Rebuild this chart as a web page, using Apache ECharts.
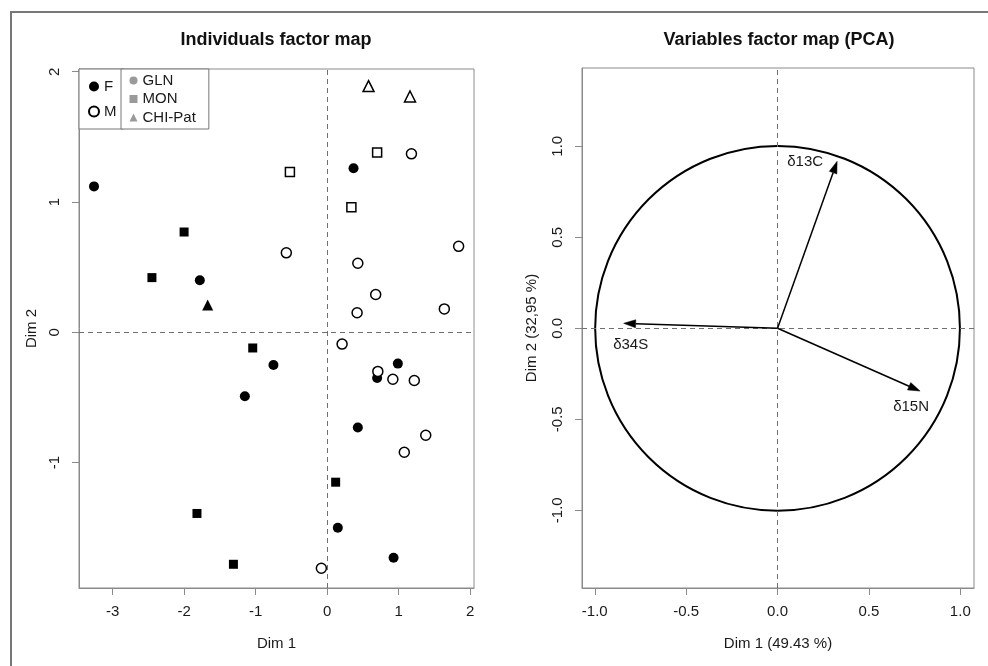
<!DOCTYPE html>
<html><head><meta charset="utf-8">
<script src="https://cdn.jsdelivr.net/npm/echarts@6/dist/echarts.min.js"></script>
<style>html,body{margin:0;padding:0;background:#fff}#c{width:988px;height:666px}</style>
</head><body><div id="c"></div><script>
// ---- Individuals factor map (Dim 1, Dim 2) by sex and site ----
const fGlnDim1 = [0.37, -3.26, -1.78, -0.75, 0.99, 0.70, -1.15, 0.43, 0.15, 0.93];
const fGlnDim2 = [1.26, 1.12, 0.40, -0.25, -0.24, -0.35, -0.49, -0.73, -1.50, -1.73];
const mGlnDim1 = [1.18, 1.84, -0.57, 0.43, 0.68, 1.64, 0.42, 0.21, 0.71, 0.92, 1.22, 1.38, 1.08, -0.08];
const mGlnDim2 = [1.37, 0.66, 0.61, 0.53, 0.29, 0.18, 0.15, -0.09, -0.30, -0.36, -0.37, -0.79, -0.92, -1.81];
const fMonDim1 = [-2.00, -2.45, -1.04, 0.12, -1.82, -1.31];
const fMonDim2 = [0.77, 0.42, -0.12, -1.15, -1.39, -1.78];
const mMonDim1 = [0.70, -0.52, 0.34];
const mMonDim2 = [1.38, 1.23, 0.96];
const fChiDim1 = [-1.67];
const fChiDim2 = [0.21];
const mChiDim1 = [0.58, 1.16];
const mChiDim2 = [1.89, 1.81];
const indTicksX = [-3, -2, -1, 0, 1, 2];
const indTicksY = [-1, 0, 1, 2];

// ---- Variables factor map (correlation circle) ----
const varNames = ['δ13C', 'δ15N', 'δ34S'];
const varDim1 = [0.326, 0.780, -0.842];
const varDim2 = [0.917, -0.345, 0.027];
const varTicks = [-1, -0.5, 0, 0.5, 1];
const circleRadius = 1;

const FONT = '"Liberation Sans", Arial, Helvetica, sans-serif';
const TXT = '#1a1a1a';
const AX = '#8a8a8a';
const GRAY = '#9a9a9a';

function zip(a, b) { return a.map((v, i) => [v, b[i]]); }

const labelOffsets = { 'δ13C': [-32, 0], 'δ15N': [-9, 16], 'δ34S': [7, 22] };

function axisCommon(ticks, fmt, isY, nameGap, name) {
  return {
    type: 'value',
    name: name,
    nameLocation: 'middle',
    nameGap: nameGap,
    nameTextStyle: { fontSize: 15, color: TXT, fontFamily: FONT },
    axisLine: { show: true, onZero: false, lineStyle: { color: AX, width: 1 } },
    axisTick: { show: true, inside: false, length: 7, lineStyle: { color: AX }, customValues: ticks },
    axisLabel: { show: true, fontSize: 15, color: TXT, fontFamily: FONT, margin: isY ? 17 : 16,
      rotate: isY ? 90 : 0, customValues: ticks, formatter: fmt, showMinLabel: true, showMaxLabel: true },
    splitLine: { show: false }
  };
}
const fmtInt = v => String(Math.round(v));
const fmt1 = v => (Math.round(v * 10) / 10).toFixed(1);

const dashed = {
  silent: true, symbol: 'none', label: { show: false },
  lineStyle: { color: '#6f6f6f', type: [5, 4], width: 1 },
  emphasis: { disabled: true },
  data: [{ xAxis: 0 }, { yAxis: 0 }]
};

const filled = { color: '#000', opacity: 1 };
const open = { color: '#fff', borderColor: '#000', borderWidth: 1.5, opacity: 1 };

function sc(name, d1, d2, symbol, size, style, extra) {
  return Object.assign({
    type: 'scatter', name: name, xAxisIndex: 0, yAxisIndex: 0,
    data: zip(d1, d2), symbol: symbol, symbolSize: size, itemStyle: style,
    emphasis: { disabled: true }, silent: true
  }, extra || {});
}

const option = {
  animation: false,
  backgroundColor: '#fff',
  textStyle: { fontFamily: FONT },
  title: [
    { text: 'Individuals factor map', left: 276, top: 31, textAlign: 'center', padding: 0,
      textStyle: { fontSize: 18, fontWeight: 'bold', color: '#111', fontFamily: FONT } },
    { text: 'Variables factor map (PCA)', left: 779, top: 31, textAlign: 'center', padding: 0,
      textStyle: { fontSize: 18, fontWeight: 'bold', color: '#111', fontFamily: FONT } }
  ],
  graphic: [
    { type: 'rect', x: 0, y: 0, shape: { x: 11, y: 12, width: 1100, height: 800 },
      style: { fill: 'none', stroke: '#777', lineWidth: 2 }, z: -10, silent: true }
  ],
  legend: [
    { left: 79, top: 69, orient: 'vertical', selectedMode: false, data: ['F', 'M'],
      padding: [9, 7, 9, 9], itemGap: 8, itemWidth: 10, itemHeight: 10,
      backgroundColor: '#fff', borderColor: '#777', borderWidth: 1, borderRadius: 0,
      textStyle: { fontSize: 15, color: TXT, fontFamily: FONT, lineHeight: 17 } },
    { left: 121, top: 69, orient: 'vertical', selectedMode: false, data: ['GLN', 'MON', 'CHI-Pat'],
      padding: [3, 13, 3, 8.5], itemGap: 1.5, itemWidth: 8, itemHeight: 8,
      backgroundColor: '#fff', borderColor: '#777', borderWidth: 1, borderRadius: 0,
      textStyle: { fontSize: 15, color: TXT, fontFamily: FONT, lineHeight: 17 } }
  ],
  grid: [
    { left: 79, top: 69, width: 395, height: 519, show: true, borderColor: AX, borderWidth: 1,
      backgroundColor: 'transparent', containLabel: false, outerBoundsMode: 'none' },
    { left: 582, top: 68, width: 392, height: 520, show: true, borderColor: AX, borderWidth: 1,
      backgroundColor: 'transparent', containLabel: false, outerBoundsMode: 'none' }
  ],
  xAxis: [
    Object.assign(axisCommon(indTicksX, fmtInt, false, 48, 'Dim 1'), { gridIndex: 0, min: -3.47, max: 2.055 }),
    Object.assign(axisCommon(varTicks, fmt1, false, 48, 'Dim 1 (49.43 %)'), { gridIndex: 1, min: -1.07, max: 1.075 })
  ],
  yAxis: [
    Object.assign(axisCommon(indTicksY, fmtInt, true, 40, 'Dim 2'), { gridIndex: 0, min: -1.962, max: 2.021 }),
    Object.assign(axisCommon(varTicks, fmt1, true, 43, 'Dim 2 (32,95 %)'), { gridIndex: 1, min: -1.427, max: 1.43 })
  ],
  series: [
    sc('F-GLN', fGlnDim1, fGlnDim2, 'circle', 10, filled, { markLine: dashed, z: 3 }),
    sc('F-MON', fMonDim1, fMonDim2, 'rect', 9, filled, { z: 3 }),
    sc('F-CHI-Pat', fChiDim1, fChiDim2, 'triangle', 11, filled, { z: 3 }),
    sc('M-GLN', mGlnDim1, mGlnDim2, 'circle', 10, open, { z: 4 }),
    sc('M-MON', mMonDim1, mMonDim2, 'rect', 9, open, { z: 4 }),
    sc('M-CHI-Pat', mChiDim1, mChiDim2, 'triangle', 11, open, { z: 4 }),
    // legend-only entries
    sc('F', [], [], 'circle', 10, filled),
    sc('M', [], [], 'circle', 10, open),
    sc('GLN', [], [], 'circle', 9, { color: GRAY, opacity: 1 }),
    sc('MON', [], [], 'rect', 8, { color: GRAY, opacity: 1 }),
    sc('CHI-Pat', [], [], 'triangle', 8, { color: GRAY, opacity: 1 }),
    // correlation circle
    {
      type: 'custom', name: 'circle', xAxisIndex: 1, yAxisIndex: 1, silent: true, z: 2,
      data: [[0, 0, circleRadius]],
      markLine: dashed,
      renderItem: function (params, api) {
        const c = api.coord([api.value(0), api.value(1)]);
        const s = api.size([api.value(2), api.value(2)]);
        return { type: 'circle', shape: { cx: c[0], cy: c[1], r: (s[0] + s[1]) / 2 },
          style: { fill: 'none', stroke: '#000', lineWidth: 2 } };
      }
    },
    // variable arrows
    {
      type: 'custom', name: 'vars', xAxisIndex: 1, yAxisIndex: 1, silent: true, z: 5,
      data: varNames.map((n, i) => [varDim1[i], varDim2[i], n]),
      encode: { x: 0, y: 1 },
      renderItem: function (params, api) {
        const o = api.coord([0, 0]);
        const p = api.coord([api.value(0), api.value(1)]);
        const name = varNames[params.dataIndex];
        const ang = Math.atan2(p[1] - o[1], p[0] - o[0]);
        const L = 12, W = 4;
        const bx = p[0] - L * Math.cos(ang), by = p[1] - L * Math.sin(ang);
        const nx = -Math.sin(ang), ny = Math.cos(ang);
        const off = labelOffsets[name] || [0, 0];
        return {
          type: 'group',
          children: [
            { type: 'line', shape: { x1: o[0], y1: o[1], x2: bx, y2: by },
              style: { stroke: '#000', lineWidth: 1.5 } },
            { type: 'polygon', shape: { points: [[p[0], p[1]], [bx + W * nx, by + W * ny], [bx - W * nx, by - W * ny]] },
              style: { fill: '#000', stroke: '#000', lineWidth: 0.5 } },
            { type: 'text', x: p[0] + off[0], y: p[1] + off[1],
              style: { text: name, fill: TXT, fontSize: 15, fontFamily: FONT, align: 'center', verticalAlign: 'middle' } }
          ]
        };
      }
    }
  ]
};

const chart = echarts.init(document.getElementById('c'), null, { renderer: 'canvas', width: 988, height: 666 });
chart.setOption(option);
</script></body></html>
